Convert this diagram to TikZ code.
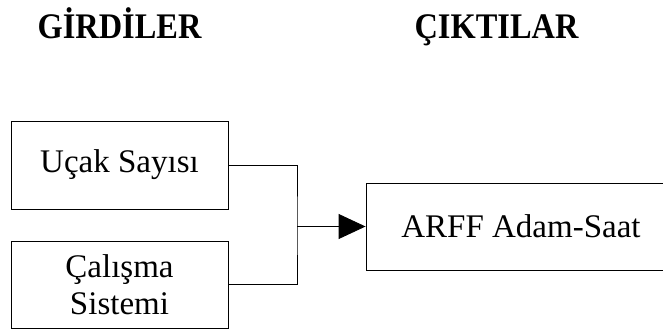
\documentclass[tikz,border=0pt]{standalone}
\usepackage{fontspec}
\setmainfont{Liberation Serif}
\usetikzlibrary{arrows.meta}
\newcommand{\titletext}[1]{\scalebox{0.9}[1]{#1}}
\begin{document}
\begin{tikzpicture}[x=1pt,y=-1pt,
  box/.style={draw, line width=0.9pt, inner sep=0pt, font=\fontsize{33}{36.5}\selectfont, align=center},
  title/.style={anchor=base, inner sep=0pt, font=\fontsize{36}{40}\selectfont\bfseries},
  wire/.style={line width=0.9pt}]
\useasboundingbox (0,0) rectangle (663,329);
\node[title] (tin) at (119.5,38) {\titletext{GİRDİLER}};
\node[title] (tout) at (496.5,38) {\titletext{ÇIKTILAR}};
\node[box, minimum width=217pt, minimum height=88pt] (top) at (119.5,165) {Uçak Sayısı};
\node[box, minimum width=217pt, minimum height=87pt] (bot) at (119.5,284.5) {Çalışma\\Sistemi};
\node[box, minimum width=310pt, minimum height=87pt] (out) at (521,226.5) {ARFF Adam-Saat};
\coordinate (j) at (297,226.5);
\draw[wire] (top.east) -| (j) |- (bot.east);
\draw[wire, -{Triangle[length=27pt, width=25pt]}] (j) -- (out.west);
\end{tikzpicture}
\end{document}
